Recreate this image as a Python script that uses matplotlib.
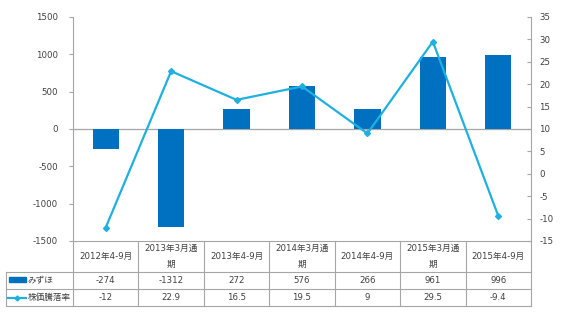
import matplotlib
matplotlib.use("Agg")
import matplotlib.pyplot as plt
from matplotlib.lines import Line2D
from matplotlib.patches import Rectangle

plt.rcParams['font.family'] = ['DejaVu Sans', 'Noto Sans CJK JP']
plt.rcParams['axes.unicode_minus'] = False

categories = ['2012年4-9月', '2013年3月通\n期', '2013年4-9月', '2014年3月通\n期',
              '2014年4-9月', '2015年3月通\n期', '2015年4-9月']
mizuho = [-274, -1312, 272, 576, 266, 961, 996]
kabuka = [-12, 22.9, 16.5, 19.5, 9, 29.5, -9.4]
mizuho_txt = ['-274', '-1312', '272', '576', '266', '961', '996']
kabuka_txt = ['-12', '22.9', '16.5', '19.5', '9', '29.5', '-9.4']
series_names = ['みずほ', '株価騰落率']

bar_color = '#0070C0'
line_color = '#1FB0E0'
grid_gray = '#A6A6A6'
text_gray = '#404040'
fs = 6.2

W, H = 570, 313
fig = plt.figure(figsize=(W / 100, H / 100), dpi=100)

# plot area in pixels
L, R, T, B = 73, 531, 17, 241
ax = fig.add_axes([L / W, 1 - B / H, (R - L) / W, (B - T) / H])
x = list(range(len(categories)))
ax.bar(x, mizuho, width=0.4, color=bar_color, zorder=2)
ax.axhline(0, color=grid_gray, lw=0.9, zorder=1)
ax.set_xlim(-0.5, len(categories) - 0.5)
ax.set_ylim(-1500, 1500)
ax.set_yticks(range(-1500, 1501, 500))
ax.set_xticks([])
for s in ['top', 'bottom', 'right']:
    ax.spines[s].set_visible(False)
ax.spines['left'].set_color(grid_gray)
ax.tick_params(axis='y', colors=grid_gray, labelcolor=text_gray, labelsize=fs, length=3, pad=8)

ax2 = ax.twinx()
ax2.plot(x, kabuka, color=line_color, lw=1.6, marker='D', ms=3, zorder=3)
ax2.set_ylim(-15, 35)
ax2.set_yticks(range(-15, 36, 5))
for s in ['top', 'bottom', 'left']:
    ax2.spines[s].set_visible(False)
ax2.spines['right'].set_color(grid_gray)
ax2.tick_params(axis='y', colors=grid_gray, labelcolor=text_gray, labelsize=fs,
                length=3, direction='in', pad=6)

# data table drawn in pixel coordinates
tb = fig.add_axes([0, 0, 1, 1])
tb.set_xlim(0, W)
tb.set_ylim(H, 0)
tb.axis('off')
LL = 6
y_head, y_r1, y_r2, y_end = B, 272, 289, 306
cw = (R - L) / len(categories)
kw = dict(color=grid_gray, lw=0.8)
tb.plot([L, R], [y_head, y_head], **kw)
tb.plot([LL, R], [y_r1, y_r1], **kw)
tb.plot([LL, R], [y_r2, y_r2], **kw)
tb.plot([LL, R], [y_end, y_end], **kw)
tb.plot([LL, LL], [y_r1, y_end], **kw)
for i in range(len(categories) + 1):
    tb.plot([L + i * cw] * 2, [y_head, y_end], **kw)

for i, c in enumerate(categories):
    cx = L + (i + 0.5) * cw
    tb.text(cx, (y_head + y_r1) / 2, c, ha='center', va='center', fontsize=fs,
            color=text_gray, linespacing=1.9)
    tb.text(cx, (y_r1 + y_r2) / 2, mizuho_txt[i], ha='center', va='center',
            fontsize=fs, color=text_gray)
    tb.text(cx, (y_r2 + y_end) / 2, kabuka_txt[i], ha='center', va='center',
            fontsize=fs, color=text_gray)

# legend keys
tb.add_patch(Rectangle((9, 277), 17, 5, color=bar_color))
tb.text(27, (y_r1 + y_r2) / 2, series_names[0], ha='left', va='center',
        fontsize=fs, color=text_gray)
tb.add_line(Line2D([8, 26], [297.5, 297.5], color=line_color, lw=1.6))
tb.plot([17], [297.5], marker='D', ms=2.5, color=line_color)
tb.text(28, (y_r2 + y_end) / 2, series_names[1], ha='left', va='center',
        fontsize=fs, color=text_gray)

fig.savefig('out.png', dpi=100)
